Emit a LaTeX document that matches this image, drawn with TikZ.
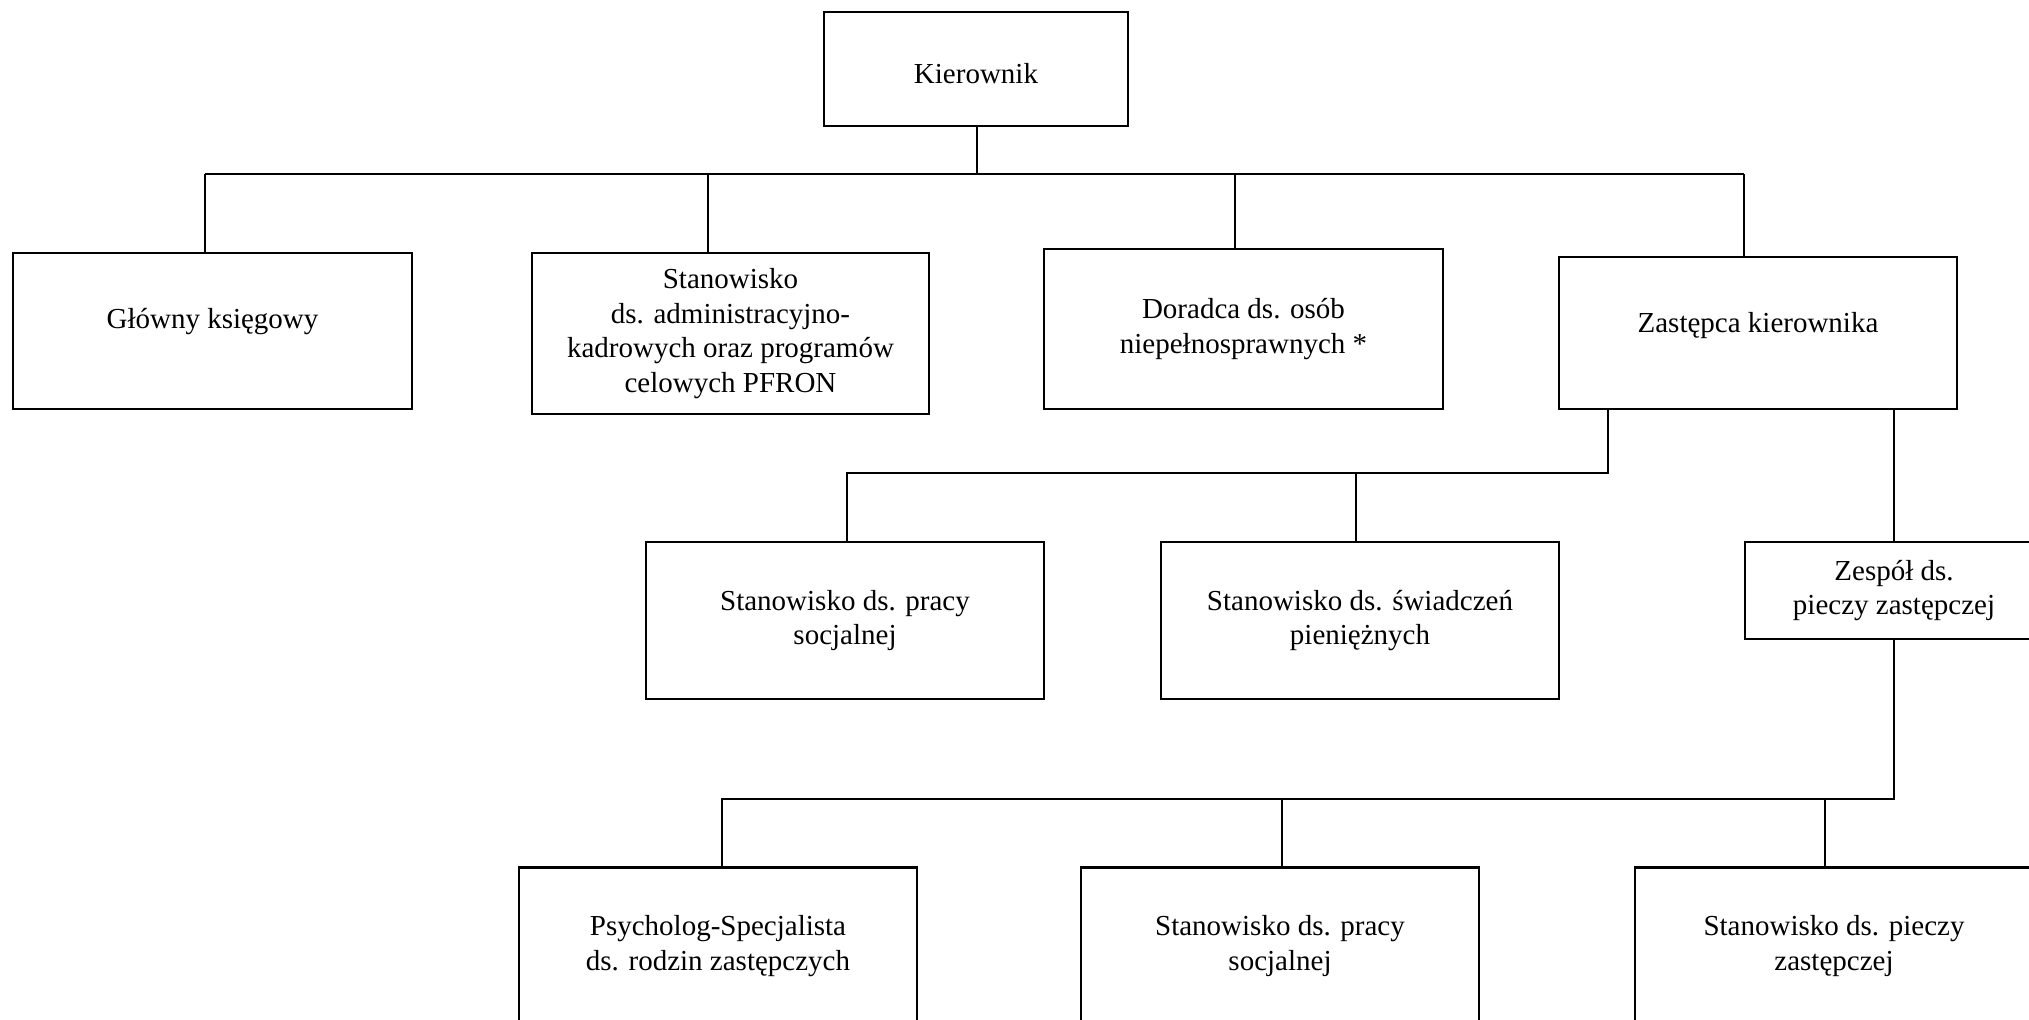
\documentclass[tikz,border=0pt]{standalone}
\usepackage{fontspec}
\setmainfont{Liberation Serif}
\newcommand{\atbase}[2]{\raisebox{#1}[0pt][0pt]{#2}}
\begin{document}
\begin{tikzpicture}[x=0.5pt,y=-0.5pt,
  orgbox/.style 2 args={draw, line width=1.2pt, align=center, inner sep=0pt,
    minimum width=#1*0.5pt, minimum height=#2*0.5pt,
    font=\fontsize{14.5}{17.2}\selectfont},
  conn/.style={line width=1pt}]
\useasboundingbox (0,0) rectangle (2029,1019);
\clip (0,0) rectangle (2029,1019);
% level 0
\node[orgbox={304}{114}] (kier) at (976,69) {\atbase{-7pt}{Kierownik}};
% level 1
\node[orgbox={399}{156}] (glowny) at (212.5,331) {\atbase{1.5pt}{Główny księgowy}};
\node[orgbox={397}{161}] (admin) at (730.5,333.5) {Stanowisko\\ds. administracyjno-\\kadrowych oraz programów\\celowych PFRON};
\node[orgbox={399}{160}] (doradca) at (1243.5,329) {Doradca ds. osób\\niepełnosprawnych *};
\node[orgbox={398}{152}] (zast) at (1758,333) {\atbase{0.5pt}{Zastępca kierownika}};
% level 2
\node[orgbox={398}{157}] (praca1) at (845,620.5) {Stanowisko ds. pracy\\socjalnej};
\node[orgbox={398}{157}] (swiad) at (1360,620.5) {Stanowisko ds. świadczeń\\pieniężnych};
\node[orgbox={298}{97}] (zespol) at (1894,590.5) {Zespół ds.\\pieczy zastępczej};
% level 3
\node[orgbox={398}{157}] (psych) at (718,946) {Psycholog-Specjalista\\ds. rodzin zastępczych};
\node[orgbox={398}{157}] (praca2) at (1280,946) {Stanowisko ds. pracy\\socjalnej};
\node[orgbox={398}{157}] (piecza) at (1834,946) {Stanowisko ds. pieczy\\zastępczej};
% bus coordinates
\coordinate (t0) at (977,174);
\coordinate (t1) at (205,174);
\coordinate (t2) at (708,174);
\coordinate (t3) at (1235,174);
\coordinate (t4) at (1744,174);
\coordinate (z0) at (1608,473);
\coordinate (z1) at (847,473);
\coordinate (z2) at (1356,473);
\coordinate (zr) at (1894,409);
\coordinate (p0) at (1894,799);
\coordinate (p1) at (722,799);
\coordinate (p2) at (1282,799);
\coordinate (p3) at (1825,799);
% connectors
\draw[conn] (kier.south -| t0) -- (t0);
\draw[conn] (t1) -- (t4);
\draw[conn] (t1) -- (t1 |- glowny.north);
\draw[conn] (t2) -- (t2 |- admin.north);
\draw[conn] (t3) -- (t3 |- doradca.north);
\draw[conn] (t4) -- (t4 |- zast.north);
\draw[conn] (zast.south -| z0) -- (z0) -- (z1) -- (z1 |- praca1.north);
\draw[conn] (z2) -- (z2 |- swiad.north);
\draw[conn] (zast.south -| zr) -- (zespol.north -| zr);
\draw[conn] (zespol.south -| p0) -- (p0) -- (p1) -- (p1 |- psych.north);
\draw[conn] (p2) -- (p2 |- praca2.north);
\draw[conn] (p3) -- (p3 |- piecza.north);
\end{tikzpicture}
\end{document}
